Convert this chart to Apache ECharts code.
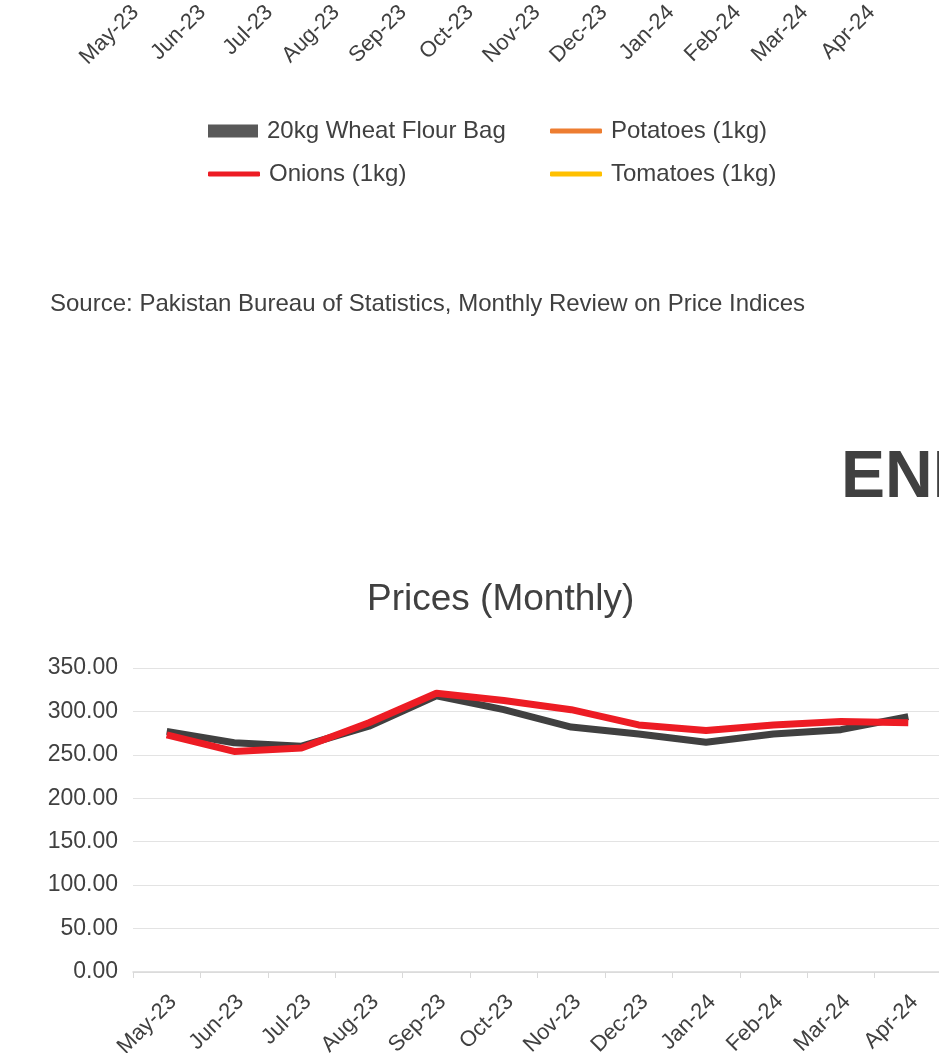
<!DOCTYPE html>
<html>
<head>
<meta charset="utf-8">
<script src="https://cdn.jsdelivr.net/npm/echarts@6/dist/echarts.min.js"></script>
<style>
  html, body { margin: 0; padding: 0; background: #fff; }
  #chart { width: 939px; height: 1053px; }
</style>
</head>
<body>
<div id="chart"></div>
<script>
const months = ['May-23', 'Jun-23', 'Jul-23', 'Aug-23', 'Sep-23', 'Oct-23',
  'Nov-23', 'Dec-23', 'Jan-24', 'Feb-24', 'Mar-24', 'Apr-24']

// legend names of the chart above (its plot area is off the page)
const topSeriesNames = ['20kg Wheat Flour Bag', 'Onions (1kg)', 'Potatoes (1kg)', 'Tomatoes (1kg)']

// Prices (Monthly)
const priceDark = [277, 264, 260, 283, 318, 302, 282, 274, 264.5, 274, 279, 294]
const priceRed = [273, 254, 258, 287, 321, 312.5, 302, 284.5, 278, 284.5, 288.5, 287]

const yTicks = { min: 0, max: 350, interval: 50 }

const textColor = '#404040'
const font = 'Liberation Sans, Arial, sans-serif'

const chart = echarts.init(document.getElementById('chart'))

function oneLegend(name, left, top, icon, color, w, h) {
  return {
    data: [{ name: name, icon: icon, itemStyle: { color: color } }],
    left: left,
    top: top,
    itemWidth: w,
    itemHeight: h,
    itemGap: 0,
    textStyle: { color: textColor, fontSize: 24, fontFamily: font, padding: [0, 0, 0, 4] },
    selectedMode: false
  }
}

chart.setOption({
  animation: false,
  textStyle: { fontFamily: font },
  title: {
    text: 'Prices (Monthly)',
    left: 362,
    top: 576,
    textStyle: { color: textColor, fontSize: 37, fontWeight: 'normal', fontFamily: font }
  },
  legend: [
    oneLegend(topSeriesNames[0], 203, 114, 'rect', '#595959', 50, 13),
    oneLegend(topSeriesNames[1], 203, 157, 'roundRect', '#ED1C24', 52, 5),
    oneLegend(topSeriesNames[2], 545, 114, 'roundRect', '#ED7D31', 52, 5),
    oneLegend(topSeriesNames[3], 545, 157, 'roundRect', '#FFC000', 52, 5)
  ],
  graphic: [
    {
      type: 'text',
      left: 50,
      top: 292,
      style: {
        text: 'Source: Pakistan Bureau of Statistics, Monthly Review on Price Indices',
        fill: textColor,
        fontSize: 24,
        fontFamily: font
      }
    },
    {
      type: 'text',
      left: 841,
      top: 446,
      style: {
        text: 'ENERGY',
        fill: textColor,
        fontSize: 66,
        fontWeight: 'bold',
        fontFamily: font
      }
    }
  ],
  grid: [
    { left: 102, width: 803, top: -178, height: 175, outerBoundsMode: 'none' },
    { left: 133, right: -3, top: 668, bottom: 81, outerBoundsMode: 'none' }
  ],
  xAxis: [
    {
      gridIndex: 0,
      type: 'category',
      data: months,
      axisLine: { show: false },
      axisTick: { show: false },
      axisLabel: { rotate: 45, color: textColor, fontSize: 22, fontFamily: font, margin: 12 }
    },
    {
      gridIndex: 1,
      type: 'category',
      data: months,
      axisLine: { lineStyle: { color: '#D9D9D9', width: 1.5 } },
      axisTick: { show: true, length: 6, lineStyle: { color: '#D9D9D9' } },
      axisLabel: {
        rotate: 45,
        color: textColor,
        fontSize: 22,
        fontFamily: font,
        margin: 33,
        padding: [0, -9, 0, 0]
      }
    }
  ],
  yAxis: [
    {
      gridIndex: 0,
      type: 'value',
      show: false
    },
    {
      gridIndex: 1,
      type: 'value',
      min: yTicks.min,
      max: yTicks.max,
      interval: yTicks.interval,
      axisLine: { show: false },
      axisTick: { show: false },
      splitLine: { lineStyle: { color: '#E3E3E3', width: 1.2 } },
      axisLabel: {
        color: textColor,
        fontSize: 23,
        fontFamily: font,
        margin: 15,
        formatter: v => v.toFixed(2)
      }
    }
  ],
  series: [
    { name: topSeriesNames[0], type: 'line', xAxisIndex: 0, yAxisIndex: 0, data: [], itemStyle: { color: '#595959' } },
    { name: topSeriesNames[1], type: 'line', xAxisIndex: 0, yAxisIndex: 0, data: [], itemStyle: { color: '#ED1C24' } },
    { name: topSeriesNames[2], type: 'line', xAxisIndex: 0, yAxisIndex: 0, data: [], itemStyle: { color: '#ED7D31' } },
    { name: topSeriesNames[3], type: 'line', xAxisIndex: 0, yAxisIndex: 0, data: [], itemStyle: { color: '#FFC000' } },
    {
      name: 'Wheat Flour Price',
      type: 'line',
      xAxisIndex: 1,
      yAxisIndex: 1,
      data: priceDark,
      symbol: 'none',
      lineStyle: { color: '#404040', width: 7 },
      itemStyle: { color: '#404040' }
    },
    {
      name: 'Onion Price',
      type: 'line',
      xAxisIndex: 1,
      yAxisIndex: 1,
      data: priceRed,
      symbol: 'none',
      lineStyle: { color: '#ED1C24', width: 7 },
      itemStyle: { color: '#ED1C24' }
    }
  ]
})
</script>
</body>
</html>
